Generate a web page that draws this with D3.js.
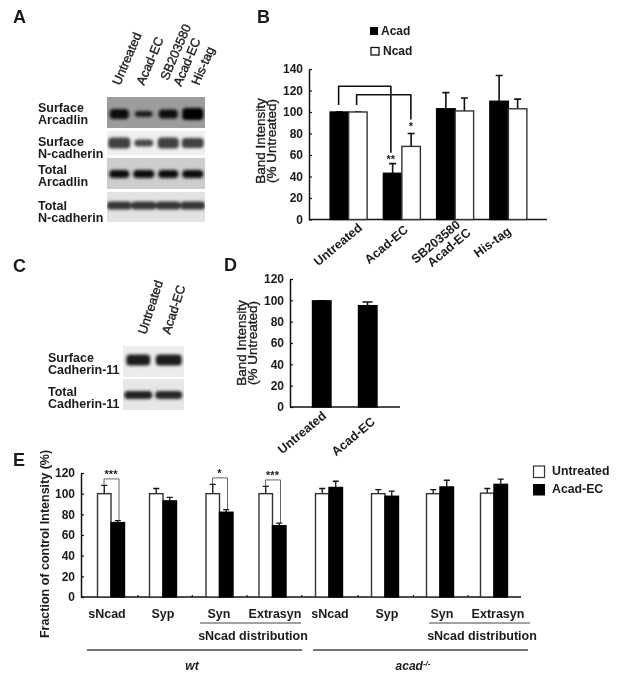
<!DOCTYPE html>
<html><head><meta charset="utf-8">
<script src="https://cdn.jsdelivr.net/npm/d3@7/dist/d3.min.js"></script>
<style>
html,body{margin:0;padding:0;background:#fff}
svg{display:block;filter:blur(0.35px)}
text{font-family:"Liberation Sans",Arial,sans-serif;font-weight:bold;fill:#1a1a1a}
text.med{font-weight:normal;stroke:#1a1a1a;stroke-width:0.35px}
</style></head><body>
<svg id="c" width="622" height="676"></svg>
<script>
// ---- data ----
const laneA = ["Untreated","Acad-EC","SB203580|Acad-EC","His-tag"];
const blotARows = ["Surface|Arcadlin","Surface|N-cadherin","Total|Arcadlin","Total|N-cadherin"];
const blotABg = ["#9c9c9c","#efefef","#cdcdcd","#e2e2e2"];
const blotADark = [[0.95,0.85,0.92,0.97],[0.62,0.58,0.62,0.62],[0.93,0.9,0.9,0.9],[0.68,0.68,0.68,0.68]];
const blotAThick = [[10,6,9,12],[11,7,11,10],[8,8,8,8],[8,8,8,8]];
const blotAShift = [1.5,0,0.5,-1.5];
const blotAWidth = [9.5,9,9.5,10.5,11,9.5,10.5,11,10,10.5,10,10.5,12.5,12.5,12.5,12.5];
const laneC = ["Untreated","Acad-EC"];
const blotCRows = ["Surface|Cadherin-11","Total|Cadherin-11"];
const blotCBg = ["#ececec","#e6e6e6"];
const blotCDark = [[0.82,0.82],[0.8,0.78]];
const blotCThick = [[11,11],[8,8]];
const blotCShift = [-1.5,0.5];
const blotCWidth = [12,13,14,13.5];

const catB = ["Untreated","Acad-EC","SB203580|Acad-EC","His-tag"];
const acadB = [100,43,103,110];
const acadBTop = [100,52,118,134];
const ncadB = [100,68,101,103];
const ncadBTop = [100,80,113,112];
const ticksB = [0,20,40,60,80,100,120,140];

const catD = ["Untreated","Acad-EC"];
const valD = [99.5,95];
const valDTop = [99.5,98.5];
const ticksD = [0,20,40,60,80,100,120];

const catE = ["sNcad","Syp","Syn","Extrasyn","sNcad ","Syp ","Syn ","Extrasyn "];
const untreatedE = [100,100,100,100,100,100,100,100.5];
const untreatedETop = [108,105,109,107,105,104,104,105];
const acadE = [72,93,82,69,106,97.5,106.5,109];
const acadETop = [74,96.5,84.5,71.5,112,102.5,113,114];
const ticksE = [0,20,40,60,80,100,120];
const sigE = [{cat:"sNcad",s:"***"},{cat:"Syn",s:"*"},{cat:"Extrasyn",s:"***"}];

// ---- helpers ----
const svg = d3.select("#c");
const defs = svg.append("defs");
defs.append("filter").attr("id","bl").attr("x","-30%").attr("y","-80%").attr("width","160%").attr("height","260%")
  .append("feGaussianBlur").attr("stdDeviation","1.6");
const INK="#111";

function letter(t,x,y){svg.append("text").attr("x",x).attr("y",y).attr("font-size",18).text(t);}
function stacked(s,x,y,lh,size,anchor,cls,transform){
  const t=svg.append("text").attr("font-size",size).attr("text-anchor",anchor||"start");
  if(cls) t.attr("class",cls);
  if(transform) t.attr("transform",transform);
  s.split("|").forEach((p,i)=>t.append("tspan").attr("x",x).attr("y",y+i*lh).text(p));
  return t;
}
function rotated(s,x,y,ang,anchor,size,cls){
  const t=svg.append("text").attr("transform",`translate(${x},${y}) rotate(${ang})`)
    .attr("text-anchor",anchor).attr("font-size",size).text(s);
  if(cls) t.attr("class",cls);
}
function rotated2(s,x,y,ang,anchor,size,dy,shift,cls){
  const t=svg.append("text").attr("transform",`translate(${x},${y}) rotate(${ang})`)
    .attr("text-anchor",anchor).attr("font-size",size);
  if(cls) t.attr("class",cls);
  s.split("|").forEach((p,i)=>t.append("tspan").attr("x",i*shift).attr("y",i*dy).text(p));
}
function blot(rowsY,rowsH,x0,x1,bg,dark,thick,widths,shift,lanes){
  const xs = d3.scaleBand().domain(lanes).range([x0,x1]).padding(0);
  dark.forEach((row,r)=>{
    svg.append("rect").attr("x",x0).attr("y",rowsY[r]).attr("width",x1-x0).attr("height",rowsH[r]).attr("fill",bg[r]);
    const clipId="cl"+x0+"_"+r;
    defs.append("clipPath").attr("id",clipId).append("rect").attr("x",x0).attr("y",rowsY[r]).attr("width",x1-x0).attr("height",rowsH[r]);
    const g=svg.append("g").attr("clip-path",`url(#${clipId})`).append("g").attr("filter","url(#bl)");
    lanes.forEach((l,i)=>{
      const d=row[i]; const v=Math.round(170*(1-d));
      const w=widths[r*lanes.length+i], h=thick[r][i];
      g.append("rect").attr("x",xs(l)+xs.bandwidth()/2-w).attr("y",rowsY[r]+rowsH[r]*0.5+shift[r]-h/2)
        .attr("width",2*w).attr("height",h).attr("rx",4).attr("ry",3.5)
        .attr("fill",d3.rgb(v,v,v));
    });
  });
}
function yAxis(y,ticks,x){
  const g=svg.append("g").attr("transform",`translate(${x},0)`);
  g.call(d3.axisLeft(y).tickValues(ticks).tickSize(-3).tickSizeOuter(0).tickPadding(6));
  g.select(".domain").attr("stroke",INK).attr("stroke-width",1.5);
  g.selectAll(".tick line").attr("stroke",INK).attr("stroke-width",1.2);
  g.selectAll(".tick text").attr("font-size",12).attr("font-family",null).attr("fill","#1a1a1a");
  return g;
}
function bar(x,w,y,y0,fill){
  svg.append("rect").attr("x",x).attr("y",y).attr("width",w).attr("height",y0-y)
    .attr("fill",fill).attr("stroke",fill==="#fff"?"#333":"#000").attr("stroke-width",1.4);
}
function err(cx,yTop,yBar,cap,w){
  svg.append("path").attr("d",`M${cx},${yBar}V${yTop}M${cx-cap},${yTop}H${cx+cap}`)
    .attr("fill","none").attr("stroke",INK).attr("stroke-width",w);
}

// ---- panel letters ----
letter("A",13,23);letter("B",257,23);letter("C",13,272);letter("D",224,271);letter("E",13,466);

// ---- panel A ----
blot([97,131,158,192],[31,24,31,30],107,205,blotABg,blotADark,blotAThick,blotAWidth,blotAShift,laneA);
blotARows.forEach((s,i)=>stacked(s,38,[112,146,174,210][i],12,12.5));
const [sbTop,sbBottom]=laneA[2].split("|");
rotated(laneA[0],120,86,-67,"start",12.7,"med");
rotated(laneA[1],144,86,-67,"start",12.7,"med");
rotated(sbTop,168,81,-67,"start",12.7,"med");
rotated(sbBottom,181,87,-67,"start",12.7,"med");
rotated(laneA[3],199,86,-67,"start",12.7,"med");

// ---- panel B ----
const yB=d3.scaleLinear().domain([0,140]).range([219.5,69]);
const xB=d3.scaleBand().domain(catB).range([322,535]).padding(0);
const barWB=18.5;
svg.append("line").attr("x1",309).attr("x2",547).attr("y1",yB(0)).attr("y2",yB(0)).attr("stroke",INK).attr("stroke-width",1.5);
catB.forEach((c,i)=>{
  const cx=xB(c)+xB.bandwidth()/2;
  err(cx-barWB/2,yB(acadBTop[i]),yB(acadB[i]),3.5,1.6);
  err(cx+barWB/2,yB(ncadBTop[i]),yB(ncadB[i]),3.5,1.6);
  bar(cx-barWB,barWB,yB(acadB[i]),yB(0),"#000");
  bar(cx,barWB,yB(ncadB[i]),yB(0),"#fff");
});
yAxis(yB,ticksB,309);
const cxB=i=>xB(catB[i])+xB.bandwidth()/2;
svg.append("path").attr("d",`M${cxB(0)-10},${yB(100)-7}V${yB(124)}H${cxB(1)-11}V${yB(62)}`)
  .attr("fill","none").attr("stroke",INK).attr("stroke-width",1.6).attr("stroke-linejoin","round");
svg.append("path").attr("d",`M${cxB(0)+8},${yB(100)-7}V${yB(116)}H${cxB(1)+9}V${yB(93)}`)
  .attr("fill","none").attr("stroke",INK).attr("stroke-width",1.6).attr("stroke-linejoin","round");
svg.append("text").attr("x",cxB(1)-11).attr("y",yB(53)).attr("text-anchor","middle").attr("font-size",11).text("**");
svg.append("text").attr("x",cxB(1)+9).attr("y",yB(83)).attr("text-anchor","middle").attr("font-size",11).text("*");
svg.append("rect").attr("x",370).attr("y",27).attr("width",8).attr("height",8).attr("fill","#000");
svg.append("text").attr("x",381).attr("y",35).attr("font-size",12).text("Acad");
svg.append("rect").attr("x",371).attr("y",47.5).attr("width",8).attr("height",7.5).attr("fill","#fff").attr("stroke",INK).attr("stroke-width",1.3);
svg.append("text").attr("x",383).attr("y",55).attr("font-size",12).text("Ncad");
stacked("Band Intensity|(% Untreated)",0,0,11,13.5,"middle","med","translate(265,141) rotate(-90)");
rotated(catB[0],363,229,-40,"end",12.5);
rotated(catB[1],409,231,-40,"end",12.5);
rotated2(catB[2],461,226,-40,"end",12.5,13,3);
rotated(catB[3],512,233,-36,"end",12.5);

// ---- panel C ----
blot([346,379],[31,31],123,184,blotCBg,blotCDark,blotCThick,blotCWidth,blotCShift,laneC);
blotCRows.forEach((s,i)=>stacked(s,48,[362,396][i],12,12.5));
rotated(laneC[0],146,335,-72,"start",12.7,"med");
rotated(laneC[1],170,335,-72,"start",12.7,"med");

// ---- panel D ----
const yD=d3.scaleLinear().domain([0,120]).range([407,279]);
const xD=d3.scaleOrdinal().domain(catD).range([321.5,367.5]);
svg.append("line").attr("x1",290).attr("x2",400).attr("y1",yD(0)).attr("y2",yD(0)).attr("stroke",INK).attr("stroke-width",1.5);
catD.forEach((c,i)=>{
  const cx=xD(c);
  err(cx,yD(valDTop[i]),yD(valD[i]),5,1.6);
  bar(cx-9,18.5,yD(valD[i]),yD(0),"#000");
});
yAxis(yD,ticksD,290);
stacked("Band Intensity|(% Untreated)",0,0,11,13.5,"middle","med","translate(246,343) rotate(-90)");
rotated(catD[0],327,417,-40,"end",12.5);
rotated(catD[1],376,423,-40,"end",12.5);

// ---- panel E ----
const yE=d3.scaleLinear().domain([0,120]).range([597,473]);
const xE=d3.scaleOrdinal().domain(catE).range([111,163,219.5,272.5,329,385,440,494]);
const barWE=13.5;
svg.append("line").attr("x1",81).attr("x2",521).attr("y1",yE(0)).attr("y2",yE(0)).attr("stroke",INK).attr("stroke-width",1.5);
catE.forEach((c,i)=>{
  const cx=xE(c);
  err(cx-barWE/2,yE(untreatedETop[i]),yE(untreatedE[i]),3,1.3);
  err(cx+barWE/2,yE(acadETop[i]),yE(acadE[i]),3,1.3);
  bar(cx-barWE,barWE,yE(untreatedE[i]),yE(0),"#fff");
  bar(cx,barWE,yE(acadE[i]),yE(0),"#000");
  if(i<catE.length-1){
    const mx=(xE(c)+xE(catE[i+1]))/2+1;
    svg.append("line").attr("x1",mx).attr("x2",mx).attr("y1",yE(0)).attr("y2",yE(0)-2).attr("stroke",INK).attr("stroke-width",1.2);
  }
});
yAxis(yE,ticksE,81);
const midE=[107,163,219,275,330,387,442,498];
catE.forEach((c,i)=>svg.append("text").attr("x",midE[i]).attr("y",618).attr("text-anchor","middle").attr("font-size",12.5).text(c.trim()));
sigE.forEach(o=>{
  const i=catE.indexOf(o.cat),cx=xE(o.cat);
  const top=yE(untreatedETop[i])-6.5;
  svg.append("path").attr("d",`M${cx-7},${yE(untreatedETop[i])}V${top}H${cx+8}V${yE(acadETop[i])}`)
    .attr("fill","none").attr("stroke","#555").attr("stroke-width",0.9);
  svg.append("text").attr("x",cx).attr("y",top-0.5).attr("text-anchor","middle").attr("font-size",11).text(o.s);
});
[[200,301,623],[429,530,623],[87,302,650],[313,528,650]].forEach(l=>
  svg.append("line").attr("x1",l[0]).attr("x2",l[1]).attr("y1",l[2]).attr("y2",l[2]).attr("stroke","#444").attr("stroke-width",l[2]===650?1.4:1));
svg.append("text").attr("x",253).attr("y",640).attr("text-anchor","middle").attr("font-size",12.5).text("sNcad distribution");
svg.append("text").attr("x",482).attr("y",640).attr("text-anchor","middle").attr("font-size",12.5).text("sNcad distribution");
svg.append("text").attr("x",192).attr("y",670).attr("text-anchor","middle").attr("font-size",12).attr("font-style","italic").text("wt");
const ac=svg.append("text").attr("x",413).attr("y",670).attr("text-anchor","middle").attr("font-size",12).attr("font-style","italic");
ac.append("tspan").text("acad");
ac.append("tspan").attr("dy",-4).attr("font-size",8).text("-/-");
svg.append("text").attr("transform","translate(49,544) rotate(-90)").attr("text-anchor","middle").attr("font-size",12.5).text("Fraction of control Intensity (%)");
svg.append("rect").attr("x",533.5).attr("y",466).attr("width",11).attr("height",11.5).attr("fill","#fff").attr("stroke","#333").attr("stroke-width",1.2);
svg.append("rect").attr("x",533).attr("y",484).attr("width",12).attr("height",11.5).attr("fill","#000");
svg.append("text").attr("x",552).attr("y",475).attr("font-size",12.3).text("Untreated");
svg.append("text").attr("x",552).attr("y",493).attr("font-size",12.3).text("Acad-EC");
</script></body></html>
